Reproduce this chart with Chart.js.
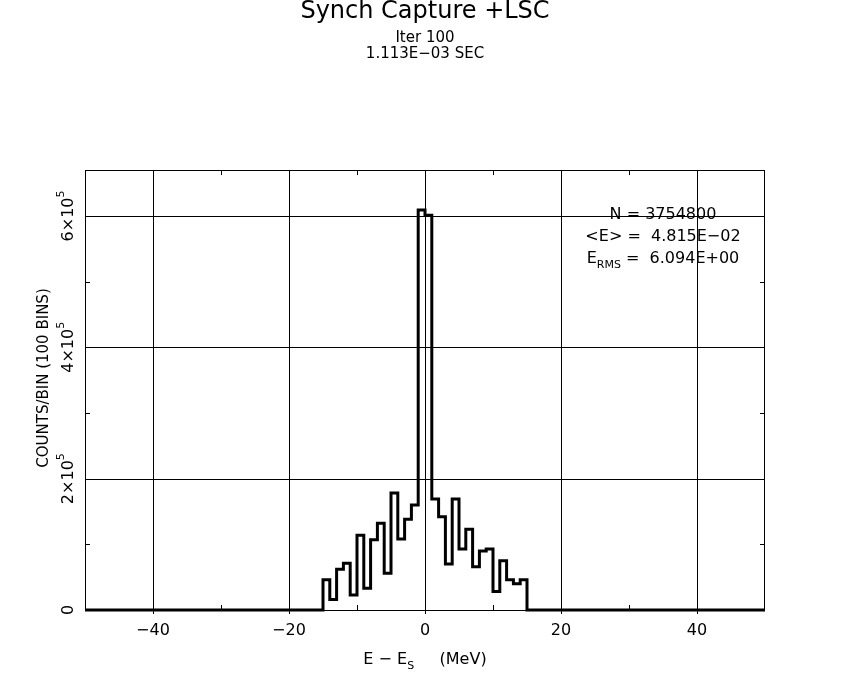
<!DOCTYPE html>
<html>
<head>
<meta charset="utf-8">
<script src="https://cdn.jsdelivr.net/npm/chart.js@4"></script>
<style>
  html, body { margin: 0; padding: 0; background: #fff; }
  canvas { display: block; }
</style>
</head>
<body>
<canvas id="chart" width="850" height="680"></canvas>
<script>
// 100 bins of 1 MeV, from -50 to +50
const xMin = -50;
const xMax = 50;
const binWidth = 1;
const counts = [
  0, 0, 0, 0, 0, 0, 0, 0, 0, 0,
  0, 0, 0, 0, 0, 0, 0, 0, 0, 0,
  0, 0, 0, 0, 0, 0, 0, 0, 0, 0,
  0, 0, 0, 0, 0, 46000, 16000, 62000, 71000, 23000,
  114000, 33000, 107000, 132000, 56000, 178000, 108000, 138000, 160000, 609000,
  601000, 169000, 142000, 70000, 169000, 93000, 123000, 66000, 90000, 93000,
  28000, 75000, 46000, 40000, 46000, 0, 0, 0, 0, 0,
  0, 0, 0, 0, 0, 0, 0, 0, 0, 0,
  0, 0, 0, 0, 0, 0, 0, 0, 0, 0,
  0, 0, 0, 0, 0, 0, 0, 0, 0, 0
];
const yMax = 670000;
const xTickLabels = [-40, -20, 0, 20, 40];
const xMinorTicks = [-30, -10, 10, 30];
const yTickLabels = [0, 200000, 400000, 600000];
const yMinorTicks = [100000, 300000, 500000];
const titleLines = ['Synch Capture +LSC', 'Iter 100', '1.113E\u221203 SEC'];
const statLabels = ['N', '<E>', 'E'];
const statSubs = ['', '', 'RMS'];
const statValues = ['3754800', ' 4.815E\u221202', ' 6.094E+00'];

const FONT = "'DejaVu Sans', sans-serif";

// histogram outline: one point at each bin's left edge, plus the closing edge
const points = counts.map((c, i) => ({ x: xMin + i * binWidth, y: c }));
points.push({ x: xMax, y: counts[counts.length - 1] });

function fmtX(v) {
  return v < 0 ? '\u2212' + Math.abs(v) : String(v);
}

// text with a sub/superscript part, centred at (cx, cy)
function drawScripted(ctx, parts, cx, cy, size) {
  let total = 0;
  parts.forEach(p => {
    ctx.font = (p.small ? Math.round(size * 0.7) : size) + 'px ' + FONT;
    p.w = ctx.measureText(p.t).width;
    total += p.w;
  });
  let x = cx - total / 2;
  parts.forEach(p => {
    ctx.font = (p.small ? Math.round(size * 0.7) : size) + 'px ' + FONT;
    ctx.fillText(p.t, x, cy + (p.dy || 0));
    x += p.w;
  });
}

const decor = {
  id: 'decor',
  beforeDatasetsDraw(chart) {
    // horizontal grid lines at the labelled y values
    const { ctx, chartArea: a, scales: { y } } = chart;
    ctx.save();
    ctx.strokeStyle = '#000';
    ctx.lineWidth = 1;
    ctx.beginPath();
    yTickLabels.filter(v => v > 0).forEach(v => {
      const py = Math.round(y.getPixelForValue(v)) + 0.5;
      ctx.moveTo(a.left, py); ctx.lineTo(a.right, py);
    });
    ctx.stroke();
    ctx.restore();
  },
  afterDraw(chart) {
    const { ctx, chartArea: a, scales: { x, y } } = chart;
    ctx.save();
    ctx.strokeStyle = '#000';
    ctx.fillStyle = '#000';
    ctx.lineWidth = 1;
    ctx.strokeRect(a.left + 0.5, a.top + 0.5, a.right - a.left - 1, a.bottom - a.top);

    // minor ticks on all four sides
    ctx.beginPath();
    xMinorTicks.forEach(v => {
      const px = Math.round(x.getPixelForValue(v)) + 0.5;
      ctx.moveTo(px, a.bottom); ctx.lineTo(px, a.bottom - 5);
      ctx.moveTo(px, a.top); ctx.lineTo(px, a.top + 5);
    });
    yMinorTicks.forEach(v => {
      const py = Math.round(y.getPixelForValue(v)) + 0.5;
      ctx.moveTo(a.left, py); ctx.lineTo(a.left + 5, py);
      ctx.moveTo(a.right, py); ctx.lineTo(a.right - 5, py);
    });
    ctx.stroke();

    ctx.textBaseline = 'middle';
    ctx.textAlign = 'left';

    // rotated y tick labels
    yTickLabels.forEach(v => {
      const py = y.getPixelForValue(v);
      ctx.save();
      ctx.translate(69, py);
      ctx.rotate(-Math.PI / 2);
      if (v === 0) {
        drawScripted(ctx, [{ t: '0' }], 0, 0, 16);
      } else {
        const m = Math.round(v / 100000);
        drawScripted(ctx, [{ t: m + '\u00d710' }, { t: '5', small: true, dy: -8 }], 0, 0, 16);
      }
      ctx.restore();
    });

    // y axis title
    ctx.save();
    ctx.translate(44, 378);
    ctx.rotate(-Math.PI / 2);
    drawScripted(ctx, [{ t: 'COUNTS/BIN (100 BINS)' }], 0, 0, 15);
    ctx.restore();

    // x axis title
    drawScripted(ctx, [{ t: 'E \u2212 E' }, { t: 'S', small: true, dy: 6 }, { t: '     (MeV)' }], 425, 660, 16);

    // titles
    drawScripted(ctx, [{ t: titleLines[0] }], 425, 12, 24);
    drawScripted(ctx, [{ t: titleLines[1] }], 425, 38, 15);
    drawScripted(ctx, [{ t: titleLines[2] }], 425, 54, 15);

    // statistics box
    const statY = [215, 237, 259];
    statLabels.forEach((lab, i) => {
      const parts = [{ t: lab }];
      if (statSubs[i]) parts.push({ t: statSubs[i], small: true, dy: 6 });
      parts.push({ t: ' = ' + statValues[i] });
      drawScripted(ctx, parts, 663, statY[i], 16);
    });
    ctx.restore();
  }
};

new Chart(document.getElementById('chart'), {
  type: 'line',
  data: {
    datasets: [{
      data: points,
      borderColor: '#000',
      borderWidth: 3,
      pointRadius: 0,
      fill: false,
      stepped: 'before',
      tension: 0,
      clip: 4
    }]
  },
  options: {
    responsive: false,
    animation: false,
    layout: { padding: { top: 170, right: 85, left: 0, bottom: 0 } },
    plugins: {
      legend: { display: false },
      tooltip: { enabled: false }
    },
    scales: {
      x: {
        type: 'linear',
        min: xMin,
        max: xMax,
        afterFit: s => { s.height = 70; },
        border: { display: false },
        grid: {
          color: c => xTickLabels.includes(c.tick.value) ? '#000' : 'rgba(0,0,0,0)',
          tickColor: c => xTickLabels.includes(c.tick.value) ? '#000' : 'rgba(0,0,0,0)',
          tickLength: 4,
          lineWidth: 1
        },
        ticks: {
          stepSize: 10,
          autoSkip: false,
          maxRotation: 0,
          padding: 7,
          color: '#000',
          font: { family: FONT, size: 16 },
          callback: v => xTickLabels.includes(v) ? fmtX(v) : ''
        }
      },
      y: {
        type: 'linear',
        min: 0,
        max: yMax,
        afterFit: s => { s.width = 85; },
        border: { display: false },
        grid: { display: false },
        ticks: { display: false, stepSize: 100000 }
      }
    }
  },
  plugins: [decor]
});
</script>
</body>
</html>
